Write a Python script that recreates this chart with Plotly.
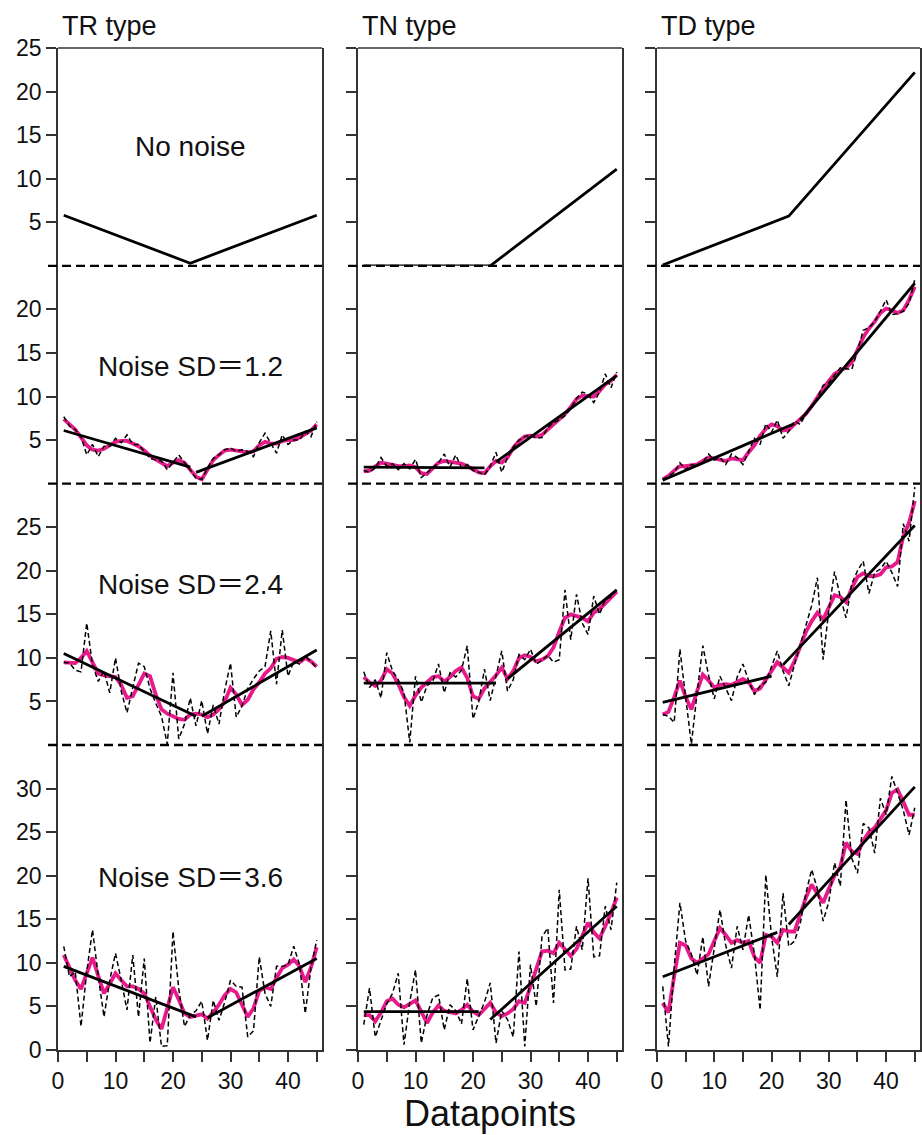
import plotly.graph_objects as go

# ---------------- data ----------------
datapoints = list(range(1, 46))

# row 1: no noise (breakpoints of the underlying trends)
tr_clean_x = [1, 23, 45]
tr_clean_y = [5.8, 0.3, 5.8]
tn_clean_x = [1, 23, 45]
tn_clean_y = [0.0, 0.0, 11.1]
td_clean_x = [1, 23, 45]
td_clean_y = [0.1, 5.7, 22.2]

# row 2: noise SD = 1.2
tr_sd12_raw = [7.7, 6.6, 6.2, 5.4, 3.3, 4.5, 3.1, 4.3, 4.3, 5.2, 4.7, 5.6, 4.5, 4.5, 3.7,
               2.9, 2.7, 2.6, 1.6, 2.4, 3.3, 2.4, 1.6, 0.6, 0.5, 1.8, 2.9, 3.3, 3.9, 4.1,
               3.7, 3.9, 3.7, 3.1, 4.7, 5.8, 4.7, 3.5, 5.6, 4.5, 5.0, 5.0, 6.0, 5.4, 7.1]
tr_sd12_smooth = [7.4, 6.8, 6.2, 5.3, 4.4, 3.9, 3.8, 4.0, 4.4, 4.8, 4.9, 4.9, 4.6, 4.3, 3.8,
                  3.2, 2.8, 2.4, 2.0, 2.4, 2.7, 2.4, 1.6, 0.8, 0.5, 1.6, 2.7, 3.3, 3.8, 3.9,
                  3.8, 3.8, 3.6, 3.7, 4.4, 4.8, 4.6, 4.6, 4.9, 5.0, 5.0, 5.3, 5.7, 6.1, 6.8]
tr_sd12_fit_x = [[1, 23], [24, 45]]
tr_sd12_fit_y = [[6.1, 1.9], [1.3, 6.4]]

tn_sd12_raw = [1.5, 1.3, 1.8, 3.0, 2.0, 2.3, 1.6, 2.3, 1.7, 2.8, 0.7, 1.3, 1.8, 2.4, 3.4,
               1.9, 3.3, 1.8, 2.2, 1.5, 1.3, 1.0, 2.0, 3.6, 1.3, 3.0, 4.2, 5.0, 5.4, 5.6,
               5.2, 5.3, 6.4, 7.0, 7.3, 7.8, 8.6, 9.8, 10.5, 10.3, 9.3, 10.5, 12.6, 11.0, 12.8]
tn_sd12_smooth = [1.4, 1.5, 2.0, 2.4, 2.3, 2.1, 2.0, 2.0, 2.1, 1.9, 1.2, 1.1, 1.7, 2.4, 2.6,
                  2.5, 2.5, 2.3, 2.0, 1.6, 1.3, 1.2, 2.0, 2.6, 2.4, 3.0, 4.1, 4.9, 5.4, 5.5,
                  5.4, 5.6, 6.2, 6.9, 7.4, 8.0, 8.8, 9.7, 10.1, 10.0, 10.0, 10.6, 11.4, 11.8, 12.5]
tn_sd12_fit_x = [[1, 22], [24, 45]]
tn_sd12_fit_y = [[1.9, 1.8], [2.5, 12.4]]

td_sd12_raw = [0.5, 0.8, 1.3, 2.4, 1.6, 2.2, 2.0, 2.4, 3.4, 2.7, 3.0, 2.2, 3.4, 3.0, 2.2,
               3.6, 5.2, 4.5, 6.9, 5.9, 7.3, 5.2, 6.0, 7.2, 6.8, 8.0, 8.8, 9.8, 11.3, 11.6,
               12.4, 13.3, 13.2, 13.1, 15.2, 17.6, 17.9, 18.6, 19.8, 21.1, 19.4, 19.5, 19.8, 20.7, 23.4]
td_sd12_smooth = [0.5, 0.9, 1.5, 2.0, 2.0, 2.1, 2.2, 2.6, 3.0, 2.9, 2.7, 2.6, 2.9, 2.8, 2.7,
                  3.6, 4.4, 5.5, 6.3, 6.8, 6.6, 6.1, 6.2, 6.8, 7.4, 8.0, 8.9, 10.0, 10.9, 11.8,
                  12.6, 13.0, 13.3, 13.9, 15.3, 16.8, 17.8, 18.6, 19.6, 20.1, 19.9, 19.6, 19.9, 21.1, 22.6]
td_sd12_fit_x = [[1, 24], [25, 45]]
td_sd12_fit_y = [[0.4, 6.9], [7.3, 23.0]]

# row 3: noise SD = 2.4
tr_sd24_raw = [9.5, 9.4, 8.6, 8.4, 14.0, 9.2, 7.3, 8.5, 6.0, 10.0, 6.2, 3.7, 6.6, 9.4, 9.0,
               6.5, 4.8, 3.3, 0.1, 8.3, 0.7, 2.4, 5.4, 2.2, 5.1, 1.3, 4.6, 2.4, 6.3, 9.4,
               3.2, 4.5, 6.5, 7.6, 8.5, 9.0, 13.1, 7.0, 13.2, 7.9, 9.6, 9.3, 10.2, 9.6, 8.8]
tr_sd24_smooth = [9.5, 9.4, 9.4, 10.0, 10.8, 9.5, 8.2, 8.0, 7.9, 7.8, 6.9, 5.4, 5.6, 6.9, 8.2,
                  7.9, 5.8, 4.1, 3.6, 3.3, 3.0, 2.9, 3.5, 3.6, 3.5, 3.2, 3.5, 4.1, 5.0, 6.6,
                  5.8, 4.6, 5.2, 6.4, 7.2, 8.2, 8.8, 9.9, 10.1, 10.0, 9.7, 9.5, 10.0, 9.6, 9.0]
tr_sd24_fit_x = [[1, 24], [25, 45]]
tr_sd24_fit_y = [[10.5, 3.3], [3.3, 10.9]]

tn_sd24_raw = [8.4, 6.6, 7.5, 5.4, 10.6, 8.5, 7.5, 6.0, 0.3, 7.9, 4.9, 6.8, 7.3, 9.3, 6.0,
               8.3, 7.8, 8.6, 11.4, 3.0, 5.0, 8.7, 5.1, 7.8, 10.8, 6.2, 7.5, 10.4, 9.8, 11.0,
               9.3, 9.7, 10.3, 9.5, 9.8, 17.8, 12.1, 17.3, 14.0, 12.7, 17.1, 15.0, 16.7, 17.0, 18.0]
tn_sd24_smooth = [7.8, 7.2, 6.8, 7.4, 8.7, 8.2, 7.0, 5.5, 4.5, 5.7, 6.6, 7.2, 7.8, 7.9, 7.3,
                  7.8, 8.5, 8.9, 7.7, 5.6, 5.3, 6.5, 7.2, 8.0, 8.9, 7.6, 8.5, 10.0, 10.3, 10.1,
                  9.6, 9.8, 10.2, 11.2, 13.0, 14.6, 15.0, 14.8, 14.6, 14.2, 15.2, 15.6, 16.3, 17.0, 17.6]
tn_sd24_fit_x = [[1, 24], [26, 45]]
tn_sd24_fit_y = [[7.1, 7.1], [7.6, 17.8]]

td_sd24_raw = [3.5, 3.3, 2.6, 11.0, 5.5, 0.1, 6.0, 11.4, 8.0, 5.3, 7.9, 6.5, 5.1, 7.8, 9.3,
               7.4, 5.8, 6.8, 7.2, 9.0, 10.8, 8.5, 6.8, 9.2, 11.5, 13.5, 16.0, 19.2, 9.8, 15.5,
               19.9, 17.0, 14.6, 18.5, 20.0, 21.1, 17.4, 19.8, 20.2, 21.1, 19.8, 18.2, 25.4, 23.4, 29.6]
td_sd24_smooth = [3.5, 3.8, 5.5, 7.4, 5.5, 4.1, 6.2, 8.1, 7.4, 6.6, 6.9, 7.0, 6.9, 7.2, 7.6,
                  7.2, 6.2, 6.5, 7.5, 8.6, 9.5, 8.9, 8.3, 9.6, 11.3, 13.0, 14.2, 15.2, 14.4, 15.8,
                  17.2, 17.0, 16.4, 18.0, 19.3, 19.7, 19.4, 19.4, 19.6, 20.4, 20.5, 21.0, 24.0, 25.5, 28.0]
td_sd24_fit_x = [[1, 20], [22, 45]]
td_sd24_fit_y = [[4.9, 7.9], [9.2, 25.2]]

# row 4: noise SD = 3.6
tr_sd36_raw = [11.9, 8.4, 9.0, 2.7, 9.0, 13.8, 8.5, 3.8, 8.0, 11.1, 8.0, 4.6, 10.9, 3.8, 10.5,
               0.8, 6.1, 0.4, 0.5, 13.6, 7.0, 2.7, 4.0, 4.5, 5.6, 1.1, 5.7, 3.4, 5.5, 8.0,
               7.3, 7.2, 1.5, 2.2, 10.7, 6.5, 5.0, 9.6, 9.6, 9.8, 11.9, 9.8, 4.2, 9.5, 12.6]
tr_sd36_smooth = [10.9, 9.5, 8.0, 7.0, 8.8, 10.6, 8.5, 6.5, 7.6, 8.8, 8.0, 7.3, 7.3, 7.0, 6.5,
                  5.0, 3.5, 2.4, 4.8, 7.2, 5.8, 4.2, 3.8, 4.0, 4.1, 3.6, 4.3, 5.2, 6.3, 7.0,
                  6.6, 5.2, 3.8, 4.8, 6.8, 7.2, 7.0, 8.3, 9.4, 9.8, 10.4, 9.6, 7.8, 9.5, 11.8]
tr_sd36_fit_x = [[1, 24], [26, 45]]
tr_sd36_fit_y = [[9.6, 3.8], [3.7, 10.5]]

tn_sd36_raw = [2.9, 7.1, 1.5, 3.5, 5.3, 6.5, 8.8, 0.6, 5.5, 9.2, 0.8, 4.0, 6.0, 6.3, 2.3,
               5.2, 4.5, 3.0, 8.2, 2.3, 3.8, 5.5, 7.7, 0.8, 4.5, 3.5, 1.5, 11.3, 0.4, 9.8,
               5.0, 13.0, 14.0, 5.4, 18.4, 9.2, 9.3, 14.2, 11.5, 19.7, 10.7, 10.8, 16.5, 13.8, 19.2]
tn_sd36_smooth = [4.0, 4.0, 3.3, 4.3, 5.6, 5.9, 5.2, 4.9, 5.3, 5.7, 4.4, 3.1, 4.3, 5.1, 4.5,
                  4.4, 4.2, 4.6, 5.2, 4.4, 4.0, 4.7, 5.4, 4.3, 3.9, 4.2, 4.7, 5.6, 5.4, 7.3,
                  9.3, 11.3, 11.4, 11.1, 12.3, 11.6, 10.8, 11.6, 13.0, 14.6, 13.5, 12.8, 14.2, 15.7, 17.5]
tn_sd36_fit_x = [[1, 21], [23, 45]]
tn_sd36_fit_y = [[4.4, 4.4], [3.5, 16.5]]

td_sd36_raw = [7.3, 0.4, 9.5, 16.9, 12.5, 11.0, 8.6, 13.0, 7.3, 11.5, 16.1, 12.0, 9.4, 14.2, 11.5,
               15.5, 11.0, 4.6, 20.1, 13.0, 8.4, 18.0, 11.9, 12.5, 14.5, 18.0, 20.7, 18.5, 14.8, 17.0,
               21.5, 18.8, 28.7, 22.0, 20.3, 26.0, 25.5, 22.6, 28.9, 27.0, 31.4, 29.5, 27.5, 24.7, 27.8]
td_sd36_smooth = [5.4, 4.3, 8.5, 12.3, 12.0, 10.5, 10.0, 10.5, 11.0, 12.5, 14.0, 13.2, 12.3, 12.6, 12.3,
                  12.5, 10.7, 10.0, 13.2, 13.0, 12.3, 13.8, 13.6, 13.6, 15.5, 17.5, 19.0, 18.0, 16.9, 18.5,
                  20.0, 21.0, 23.8, 22.8, 22.5, 24.0, 25.0, 25.5, 26.5, 27.5, 29.5, 29.9, 28.5, 27.0, 27.0]
td_sd36_fit_x = [[1, 21], [23, 45]]
td_sd36_fit_y = [[8.4, 13.5], [14.4, 30.2]]

column_titles = ["TR type", "TN type", "TD type"]
row_labels = ["No noise", "Noise SD\uff1d1.2", "Noise SD\uff1d2.4", "Noise SD\uff1d3.6"]
row_label_y = [13.7, 13.5, 18.4, 19.8]
row_tops = [25, 25, 30, 35]
row_tickvals = [[5, 10, 15, 20, 25], [5, 10, 15, 20], [5, 10, 15, 20, 25],
                [0, 5, 10, 15, 20, 25, 30]]
x_tickvals = [0, 5, 10, 15, 20, 25, 30, 35, 40, 45]
x_ticktext = ["0", "", "10", "", "20", "", "30", "", "40", ""]
x_label = "Datapoints"

clean = [(tr_clean_x, tr_clean_y), (tn_clean_x, tn_clean_y), (td_clean_x, td_clean_y)]
noisy = [
    [(tr_sd12_raw, tr_sd12_smooth, tr_sd12_fit_x, tr_sd12_fit_y),
     (tn_sd12_raw, tn_sd12_smooth, tn_sd12_fit_x, tn_sd12_fit_y),
     (td_sd12_raw, td_sd12_smooth, td_sd12_fit_x, td_sd12_fit_y)],
    [(tr_sd24_raw, tr_sd24_smooth, tr_sd24_fit_x, tr_sd24_fit_y),
     (tn_sd24_raw, tn_sd24_smooth, tn_sd24_fit_x, tn_sd24_fit_y),
     (td_sd24_raw, td_sd24_smooth, td_sd24_fit_x, td_sd24_fit_y)],
    [(tr_sd36_raw, tr_sd36_smooth, tr_sd36_fit_x, tr_sd36_fit_y),
     (tn_sd36_raw, tn_sd36_smooth, tn_sd36_fit_x, tn_sd36_fit_y),
     (td_sd36_raw, td_sd36_smooth, td_sd36_fit_x, td_sd36_fit_y)],
]

# ---------------- layout geometry ----------------
W, H = 922, 1135
col_px = [(58, 322), (358, 622), (657, 920)]
plot_top, plot_bot = 48, 1050
unit = (plot_bot - plot_top) / sum(row_tops)
row_px = []
acc = plot_top
for t in row_tops:
    row_px.append((acc, acc + t * unit))
    acc += t * unit
x_max = (col_px[0][1] - col_px[0][0]) / 5.75

FONT = "Liberation Sans, Arial, Noto Sans CJK JP, sans-serif"
INK = "#111111"
AXC = "#333333"
PINK = "#e8198b"

fig = go.Figure()
layout = dict(width=W, height=H, margin=dict(l=0, r=0, t=0, b=0, autoexpand=False),
              paper_bgcolor="white", plot_bgcolor="white", showlegend=False,
              font=dict(family=FONT, color=INK))
shapes = []
annotations = []

for r in range(4):
    for c in range(3):
        k = r * 3 + c + 1
        xa = "x" if k == 1 else f"x{k}"
        ya = "y" if k == 1 else f"y{k}"
        xkey = "xaxis" if k == 1 else f"xaxis{k}"
        ykey = "yaxis" if k == 1 else f"yaxis{k}"
        x0p, x1p = col_px[c]
        y0p, y1p = row_px[r]
        bottom = (r == 3)
        layout[xkey] = dict(domain=[x0p / W, x1p / W], anchor=ya, range=[0, x_max],
                            automargin=False, showgrid=False, zeroline=False,
                            showline=bottom, linecolor=AXC, linewidth=1.5,
                            ticks="outside" if bottom else "", ticklen=10, tickwidth=1.5,
                            tickcolor=AXC, tickvals=x_tickvals, ticktext=x_ticktext,
                            ticklabelstandoff=0,
                            showticklabels=bottom, tickfont=dict(size=23, family=FONT, color=INK))
        layout[ykey] = dict(domain=[1 - y1p / H, 1 - y0p / H], anchor=xa,
                            range=[0, row_tops[r]], automargin=False,
                            showgrid=False, zeroline=False,
                            showline=True, mirror=True, linecolor=AXC, linewidth=1.5,
                            ticks="outside", ticklen=10, tickwidth=1.5, tickcolor=AXC,
                            tickvals=row_tickvals[r], showticklabels=(c == 0),
                            tickfont=dict(size=23, family=FONT, color=INK))
        # frame pieces drawn in paper coordinates so they are not clipped by the subplot
        px0 = (x0p - 10) / W
        px_left = x0p / W
        px1 = x1p / W
        yb = 1 - y1p / H
        if r < 3:
            shapes.append(dict(type="line", xref="paper", yref="paper", x0=px0, x1=px1,
                               y0=yb, y1=yb,
                               line=dict(color="black", width=2.4, dash="9px,5px")))
        else:
            shapes.append(dict(type="line", xref="paper", yref="paper", x0=px0, x1=px_left,
                               y0=yb, y1=yb, line=dict(color=AXC, width=1.5)))
        if r == 0:
            yt = 1 - y0p / H
            shapes.append(dict(type="line", xref="paper", yref="paper", x0=px_left, x1=px1,
                               y0=yt, y1=yt, line=dict(color=AXC, width=1.5)))
            cx, cy = clean[c]
            fig.add_trace(go.Scatter(x=cx, y=cy, mode="lines", xaxis=xa, yaxis=ya,
                                     line=dict(color="black", width=2.8)))
        else:
            raw, smooth, fx, fy = noisy[r - 1][c]
            fig.add_trace(go.Scatter(x=datapoints, y=smooth, mode="lines", xaxis=xa, yaxis=ya,
                                     line=dict(color=PINK, width=3.8)))
            fig.add_trace(go.Scatter(x=datapoints, y=raw, mode="lines", xaxis=xa, yaxis=ya,
                                     line=dict(color="black", width=1.5, dash="5px,3px")))
            for sx, sy in zip(fx, fy):
                fig.add_trace(go.Scatter(x=sx, y=sy, mode="lines", xaxis=xa, yaxis=ya,
                                         line=dict(color="black", width=2.8)))
        dom_x = f"{xa} domain"
        if c == 0:
            annotations.append(dict(text=row_labels[r], xref=dom_x, yref=ya, x=0.5,
                                    y=row_label_y[r], showarrow=False,
                                    font=dict(size=28, family=FONT, color=INK)))
        if r == 0:
            annotations.append(dict(text=column_titles[c], xref=dom_x, yref="paper",
                                    x=0, xshift=2, y=1 - 26 / H, xanchor="left",
                                    yanchor="middle", showarrow=False,
                                    font=dict(size=27, family=FONT, color=INK)))

annotations.append(dict(text=x_label, xref="paper", yref="paper", x=490 / W, y=0,
                        xanchor="center", yanchor="bottom", showarrow=False, borderpad=0,
                        font=dict(size=36, family=FONT, color=INK)))

layout["shapes"] = shapes
layout["annotations"] = annotations
fig.update_layout(**layout)
fig.write_html("out.html",
               post_script="document.body.style.margin='0';document.body.style.overflow='hidden';")
